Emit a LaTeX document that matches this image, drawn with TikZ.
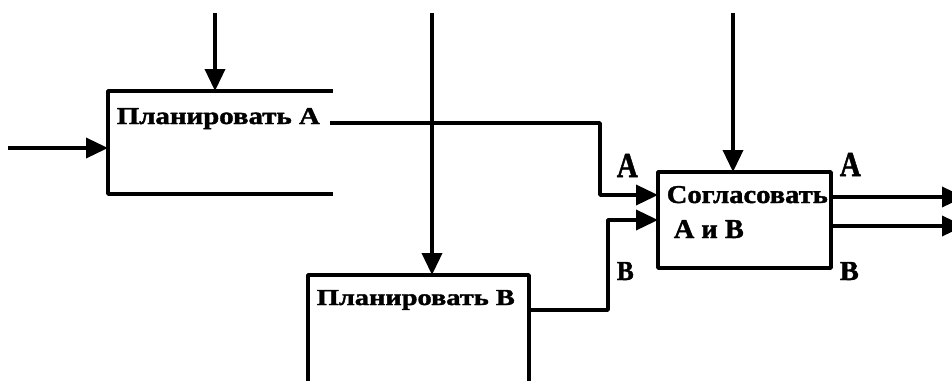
\documentclass[tikz,border=0pt]{standalone}
\usepackage{fontspec}
\setmainfont{Liberation Serif}[BoldFeatures={FakeBold=1.5}]
\usepackage{graphicx}
\usetikzlibrary{arrows.meta}
\begin{document}
\begin{tikzpicture}[x=1pt,y=-1pt,line width=3.6pt,line join=round,
  arr/.style={-{Triangle[length=22pt,width=20pt]}},
  box/.style={inner sep=0pt,outer sep=0pt,anchor=north west},
  txt/.style={inner sep=0pt,anchor=base west,font=\bfseries}]
\useasboundingbox (0,0) rectangle (952,380);
\clip (0,0) rectangle (952,380);
% boxes
\node[box,minimum width=225pt,minimum height=103pt] (boxA) at (108,91) {};
\node[box,minimum width=221pt,minimum height=130pt] (boxB) at (308,275) {};
\node[box,minimum width=173pt,minimum height=96pt] (boxC) at (658,172) {};
\draw (boxA.north east) -- (boxA.north west) -- (boxA.south west) -- (boxA.south east);
\draw (boxB.south west) -- (boxB.north west) -- (boxB.north east) -- (boxB.south east);
\draw (boxC.north west) rectangle (boxC.south east);
% texts
\node[txt] (tA) at (115,124) {\resizebox{203pt}{16pt}{Планировать А}};
\node[txt] (tB) at (315,305) {\resizebox{198pt}{15pt}{Планировать В}};
\node[txt] (tC1) at (665,203) {\resizebox{161pt}{17pt}{Согласовать}};
\node[txt] (tC2) at (672,238) {\resizebox{70pt}{18pt}{А и В}};
% free ends
\coordinate (inA) at (8,148);
\coordinate (ctlA) at (215,13);
\coordinate (ctlB) at (432,13);
\coordinate (ctlC) at (733,13);
\coordinate (outA) at (330,123);
\coordinate (jA) at (600,195);
\coordinate (jB) at (608,220);
\coordinate (outB) at (boxB.east |- 0,310);
\coordinate (endC1) at (964,197);
\coordinate (endC2) at (964,226);
% connectors
\draw[arr] (inA) -- (inA -| boxA.west);
\draw[arr] (ctlA) -- (ctlA |- boxA.north);
\draw[arr] (ctlB) -- (ctlB |- boxB.north);
\draw[arr] (ctlC) -- (ctlC |- boxC.north);
\draw[arr] (outA) -| (jA) -- (jA -| boxC.west);
\draw[arr] (outB) -| (jB) -- (jB -| boxC.west);
\draw[arr] (endC1 -| boxC.east) -- (endC1);
\draw[arr] (endC2 -| boxC.east) -- (endC2);
% labels
\node[txt] (lA1) at (615,177) {\resizebox{21pt}{23pt}{А}};
\node[txt] (lB1) at (615,280) {\resizebox{17pt}{18pt}{В}};
\node[txt] (lA2) at (838,176) {\resizebox{21pt}{23pt}{А}};
\node[txt] (lB2) at (838,280) {\resizebox{19pt}{18pt}{В}};
\end{tikzpicture}
\end{document}
